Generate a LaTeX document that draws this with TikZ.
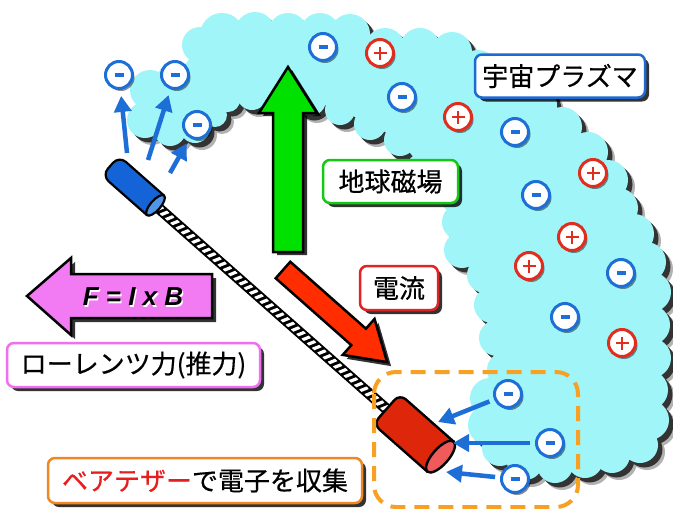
\documentclass[tikz,border=0pt]{standalone}
\usepackage{fontspec}
\newfontfamily\jpfont[FakeBold=0.5]{Noto Sans CJK JP}
\newfontfamily\eqfont{Liberation Sans}
\usetikzlibrary{arrows.meta,calc,shadows}

\definecolor{plasmacyan}{RGB}{160,245,248}
\definecolor{elblue}{RGB}{30,110,215}
\definecolor{ionred}{RGB}{225,45,30}
\definecolor{fieldgreen}{RGB}{0,225,0}
\definecolor{currred}{RGB}{255,45,0}
\definecolor{forcepink}{RGB}{242,122,242}
\definecolor{plasmablue}{RGB}{30,105,210}
\definecolor{taggreen}{RGB}{20,200,20}
\definecolor{tagred}{RGB}{225,35,35}
\definecolor{tagpink}{RGB}{240,110,240}
\definecolor{tagorange}{RGB}{240,135,35}
\definecolor{boxorange}{RGB}{247,160,35}
\definecolor{tetherblue}{RGB}{20,100,215}
\definecolor{capblue}{RGB}{80,150,235}
\definecolor{collred}{RGB}{222,38,10}
\definecolor{capred}{RGB}{240,90,90}
\definecolor{bareword}{RGB}{232,30,30}

\tikzset{
  softshadow/.style={drop shadow={shadow xshift=4pt,shadow yshift=-4pt,fill=black,opacity=.8}},
  tagbox/.style={draw=#1, fill=white, line width=2.5pt, rounded corners=7pt, inner sep=0pt,
    font=\jpfont\fontsize{26}{30}\selectfont, softshadow},
  electron/.style={circle, draw=elblue, fill=white, line width=3pt, minimum size=27pt, inner sep=0pt,
    drop shadow={shadow xshift=2pt,shadow yshift=-2.5pt,fill=black,opacity=.45}},
  ion/.style={electron, draw=ionred},
  emit/.style={elblue, line width=4.5pt, -{Triangle[length=16pt,width=17pt]}},
  outlined/.style={draw=black, line width=2.5pt, line join=round},
  formulatext/.style={font=\eqfont\bfseries\itshape\fontsize{26}{30}\selectfont},
}

% charged particles: a ringed disc with its sign
\newcommand\minuscharge[3]{%
  \node[electron] (#1) at (#2,#3) {};
  \draw[elblue,line width=3.5pt] ($(#1.center)+(-4.5,0)$) -- ($(#1.center)+(4.5,0)$);}
\newcommand\pluscharge[3]{%
  \node[ion] (#1) at (#2,#3) {};
  \draw[ionred,line width=2.8pt] ($(#1.center)+(-6.5,0)$) -- ($(#1.center)+(6.5,0)$)
    ($(#1.center)+(0,-6.5)$) -- ($(#1.center)+(0,6.5)$);}

% outline of the plasma cloud: centres and radii of its bumps
\def\cloudcircles{145/120/18, 150/90/20, 175/78/17, 200/45/18, 222/35/22, 255/32/20,
  288/33/20, 320/33/20, 350/34/20, 385/48/20, 420/48/20, 452/52/20, 478/70/20,
  505/88/20, 535/105/22, 562/127/20, 588/152/20, 608/180/20, 618/208/20, 634/234/20,
  646/262/20, 651/292/20, 650/325/20, 651/358/20, 648/390/20, 649/420/20, 640/445/18,
  612/455/18, 585/460/18, 555/465/18, 525/462/18, 500/448/18, 488/425/20, 490/398/20,
  505/370/18, 497/338/18, 492/305/18, 485/275/18, 462/250/18, 460/222/18, 458/196/18,
  425/172/20, 400/140/16, 370/124/16, 340/110/15, 310/100/16, 280/98/16, 252/95/15,
  228/100/12, 215/115/12, 195/128/15, 170/130/16}
\newcommand\cloudfill[1]{%
  \fill[#1] (145,120) \foreach \x/\y/\r in \cloudcircles {-- (\x,\y)} -- cycle;
  \fill[#1] \foreach \x/\y/\r in \cloudcircles {(\x,\y) circle (\r pt)};}

\begin{document}
\begin{tikzpicture}[x=1pt,y=-1pt]
\useasboundingbox (0,0) rectangle (673,509);
\fill[white] (0,0) rectangle (673,509);

% plasma cloud with its shadow
\begin{scope}[shift={(7,7)}]\cloudfill{black!30}\end{scope}
\begin{scope}[shift={(4.5,4.5)}]\cloudfill{black!80}\end{scope}
\cloudfill{plasmacyan}

% geomagnetic field arrow
\draw[outlined, fill=fieldgreen, line join=miter,
  drop shadow={shadow xshift=4pt,shadow yshift=-3pt,fill=black,opacity=.8}]
  (288,67) -- (317,113) -- (303,113) -- (303,252) -- (273,252) -- (273,113) -- (259,113) -- cycle;

% charges in the plasma
\minuscharge{e1}{119}{75}
\minuscharge{e2}{175}{75}
\minuscharge{e3}{197}{125}
\minuscharge{e4}{323}{47}
\minuscharge{e5}{402}{97}
\minuscharge{e6}{515}{132}
\minuscharge{e7}{536}{195}
\minuscharge{e8}{621}{273}
\minuscharge{e9}{565}{317}
\minuscharge{e10}{508}{394}
\minuscharge{e11}{550}{443}
\minuscharge{e12}{515}{479}
\pluscharge{p1}{380}{53}
\pluscharge{p2}{458}{117}
\pluscharge{p3}{593}{173}
\pluscharge{p4}{572}{237}
\pluscharge{p5}{529}{266}
\pluscharge{p6}{622}{343}

% labels
\node[tagbox=plasmablue, minimum width=170pt, minimum height=43pt] (plasma) at (560,76) {宇宙プラズマ};
\node[tagbox=taggreen, minimum width=135pt, minimum height=43pt] (geomag) at (390.5,181.5) {地球磁場};
\node[tagbox=tagred, minimum width=78pt, minimum height=44pt] (current) at (399,288) {電流};
\node[tagbox=tagpink, minimum width=253pt, minimum height=44pt] (lorentz) at (133.5,365) {ローレンツ力(推力)};
\node[tagbox=tagorange, minimum width=314pt, minimum height=45pt] (collect) at (205,480.5)
  {\textcolor{bareword}{ベアテザー}で電子を収集};

% thrust arrow
\draw[outlined, fill=forcepink, line join=miter,
  drop shadow={shadow xshift=4pt,shadow yshift=-4pt,fill=black,opacity=.8}]
  (27,296) -- (71,258) -- (71,274) -- (212,274) -- (212,318) -- (71,318) -- (71,335) -- cycle;
\node[formulatext, text=white] (formulaglow) at (134.3,298.3) {F = I x B};
\node[formulatext] (formula) at (133,297) {F = I x B};

% current arrow
\begin{scope}[shift={(287,274)}, rotate=-41.5]
  \fill[black, opacity=.8] (0,-11) -- (101,-11) -- (101,-24) -- (139,0) -- (101,24) -- (101,11) -- (0,11) -- cycle;
\end{scope}
\begin{scope}[shift={(283,270)}, rotate=-41.5]
  \draw[outlined, fill=currred, line join=miter] (0,-11) -- (101,-11) -- (101,-24) -- (139,0) -- (101,24) -- (101,11) -- (0,11) -- cycle;
\end{scope}

% bare tether with its two end bodies
\begin{scope}[shift={(112,167)}, rotate=-41.4]
  \fill[black] (56,-5.5) rectangle (372,5.5);
  \begin{scope}
    \clip (56,-3.6) rectangle (372,3.6);
    \foreach \u in {54,61,...,380} \draw[white, line width=3.2pt] (\u,4) -- (\u+4,-4);
  \end{scope}
  \draw[fill=tetherblue, line width=2.2pt, rounded corners=9pt] (58,-13) -- (-2,-13) -- (-2,13) -- (58,13);
  \draw[fill=capblue, line width=2.2pt] (58,0) ellipse [x radius=5pt, y radius=13pt];
  \draw[fill=collred, line width=2.4pt, rounded corners=8pt] (438,-20) -- (366,-20) -- (366,20) -- (438,20);
  \draw[fill=capred, line width=2.4pt] (438,0) ellipse [x radius=8pt, y radius=20pt];
\end{scope}

% electron collection region
\draw[boxorange, line width=4pt, dash pattern=on 15pt off 9pt, rounded corners=22pt] (374,372) rectangle (578,507);

% electrons emitted from the cathode end
\coordinate (s1) at (127,153);
\coordinate (s2) at (148,160);
\coordinate (s3) at (170,173);
\draw[emit, shorten >=6pt] (s1) -- (e1);
\draw[emit, shorten >=6pt] (s2) -- (e2);
\draw[emit, shorten >=6pt] (s3) -- (e3);

% electrons collected by the bare tether end
\coordinate (t1) at (438,422);
\coordinate (t2) at (453,443);
\coordinate (t3) at (446,472);
\draw[emit, shorten <=5pt] (e10) -- (t1);
\draw[emit, shorten <=5pt] (e11) -- (t2);
\draw[emit, shorten <=5pt] (e12) -- (t3);
\end{tikzpicture}
\end{document}
